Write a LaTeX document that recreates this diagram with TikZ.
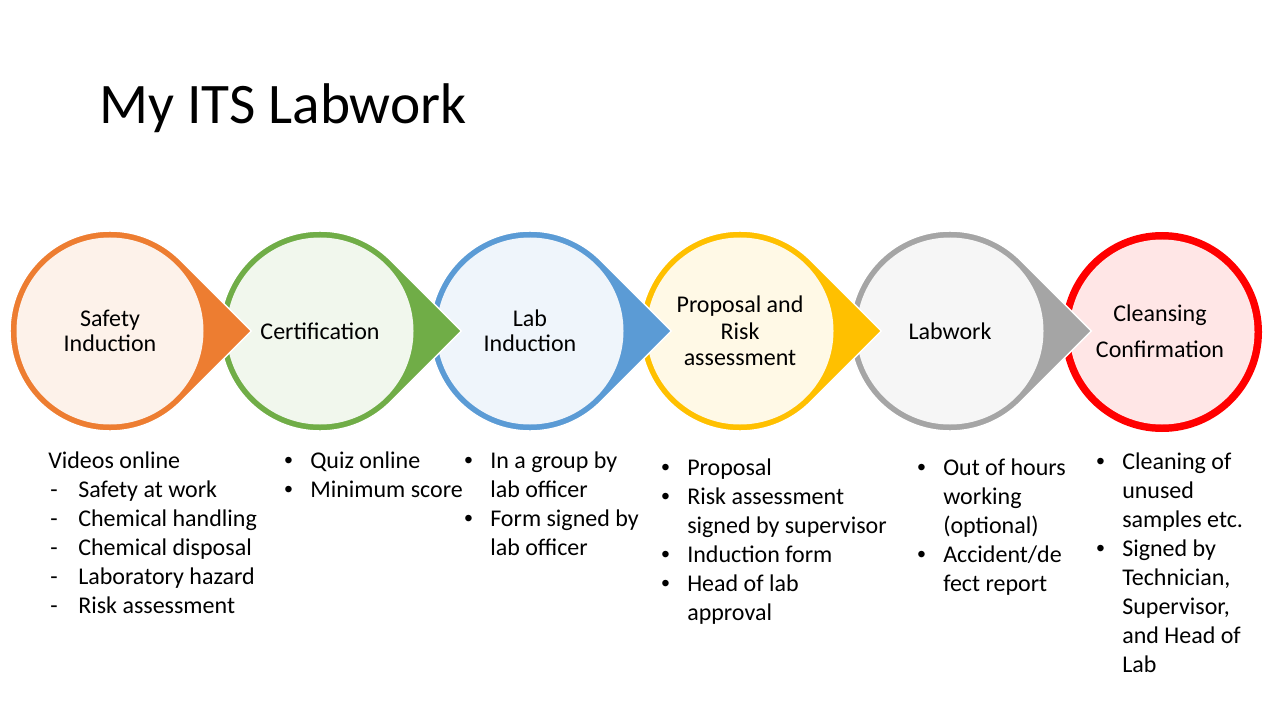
\documentclass[tikz,border=0pt]{standalone}
\usepackage{fontspec}
\setmainfont{Carlito}
\newfontfamily\bulfont{Liberation Sans}
\newcommand{\bul}{{\bulfont •}}
\usepackage{array}
\definecolor{c1}{HTML}{ED7D31}\definecolor{l1}{HTML}{FDF2EA}
\definecolor{c2}{HTML}{70AD47}\definecolor{l2}{HTML}{F1F7ED}
\definecolor{c3}{HTML}{5B9BD5}\definecolor{l3}{HTML}{EFF5FB}
\definecolor{c4}{HTML}{FFC000}\definecolor{l4}{HTML}{FFF9E6}
\definecolor{c5}{HTML}{A5A5A5}\definecolor{l5}{HTML}{F6F6F6}
\definecolor{c6}{HTML}{FF0000}\definecolor{l6}{HTML}{FFE6E6}
\tikzset{
  lbl/.style={align=center, inner sep=0pt, text=black, font=\fontsize{18pt}{18.75pt}\selectfont},
  body/.style={anchor=base west, inner sep=0pt, text=black, font=\fontsize{18pt}{21.75pt}\selectfont},
  dropedge/.style={draw=white, line width=1.1pt, line join=miter}
}
\begin{document}
\begin{tikzpicture}[x=0.75pt,y=-0.75pt]
\useasboundingbox (0,0) rectangle (1280,720);
\fill[white] (0,0) rectangle (1280,720);

% last circle (no tip)
\fill[c6] (1162,332) circle[radius=100];
\fill[l6] (1162,332) circle[radius=92.5];

% teardrops, drawn right to left so each tip lies over the next circle
\foreach \cx/\c/\l in {950/c5/l5, 740/c4/l4, 530/c3/l3, 320/c2/l2, 110/c1/l1} {
  \filldraw[fill=\c, dropedge] (\cx+141.4,331) -- (\cx+70.71,331-70.71)
     arc[start angle=-45, end angle=-315, radius=100] -- cycle;
  \fill[\l] (\cx,331) circle[radius=93.5];
}

% title
\node[anchor=base west, inner sep=0pt, font=\fontsize{43pt}{50pt}\selectfont] (title) at (99,124) {My ITS Labwork};

% circle labels
\node[lbl] (s1) at (110,331) {Safety\\Induction};
\node[lbl] (s2) at (320,331) {Certification};
\node[lbl] (s3) at (530,331) {Lab\\Induction};
\node[lbl, font=\fontsize{18pt}{19.8pt}\selectfont] (s4) at (740,331) {Proposal and\\Risk\\assessment};
\node[lbl] (s5) at (950,331) {Labwork};
\node[lbl, font=\fontsize{18pt}{27pt}\selectfont] (s6) at (1160,331) {Cleansing\\Confirmation};

% descriptions
\node[body] (d1) at (48,468) {\begin{tabular}[t]{@{}p{22.5pt}@{}l@{}}
\multicolumn{2}{@{}l@{}}{Videos online}\\
\hspace{1.5pt}-&Safety at work\\
\hspace{1.5pt}-&Chemical handling\\
\hspace{1.5pt}-&Chemical disposal\\
\hspace{1.5pt}-&Laboratory hazard\\
\hspace{1.5pt}-&Risk assessment
\end{tabular}};

\node[body] (d2) at (284,468) {\begin{tabular}[t]{@{}p{19.5pt}@{}l@{}}
\bul&Quiz online\\
\bul&Minimum score
\end{tabular}};

\node[body] (d3) at (464,468) {\begin{tabular}[t]{@{}p{19.5pt}@{}l@{}}
\bul&In a group by\\
&lab officer\\
\bul&Form signed by\\
&lab officer
\end{tabular}};

\node[body] (d4) at (661,475) {\begin{tabular}[t]{@{}p{19.5pt}@{}l@{}}
\bul&Proposal\\
\bul&Risk assessment\\
&signed by supervisor\\
\bul&Induction form\\
\bul&Head of lab\\
&approval
\end{tabular}};

\node[body] (d5) at (917,475) {\begin{tabular}[t]{@{}p{19.5pt}@{}l@{}}
\bul&Out of hours\\
&working\\
&(optional)\\
\bul&Accident/de\\
&fect report
\end{tabular}};

\node[body] (d6) at (1096,469) {\begin{tabular}[t]{@{}p{19.5pt}@{}l@{}}
\bul&Cleaning of\\
&unused\\
&samples etc.\\
\bul&Signed by\\
&Technician,\\
&Supervisor,\\
&and Head of\\
&Lab
\end{tabular}};
\end{tikzpicture}
\end{document}
